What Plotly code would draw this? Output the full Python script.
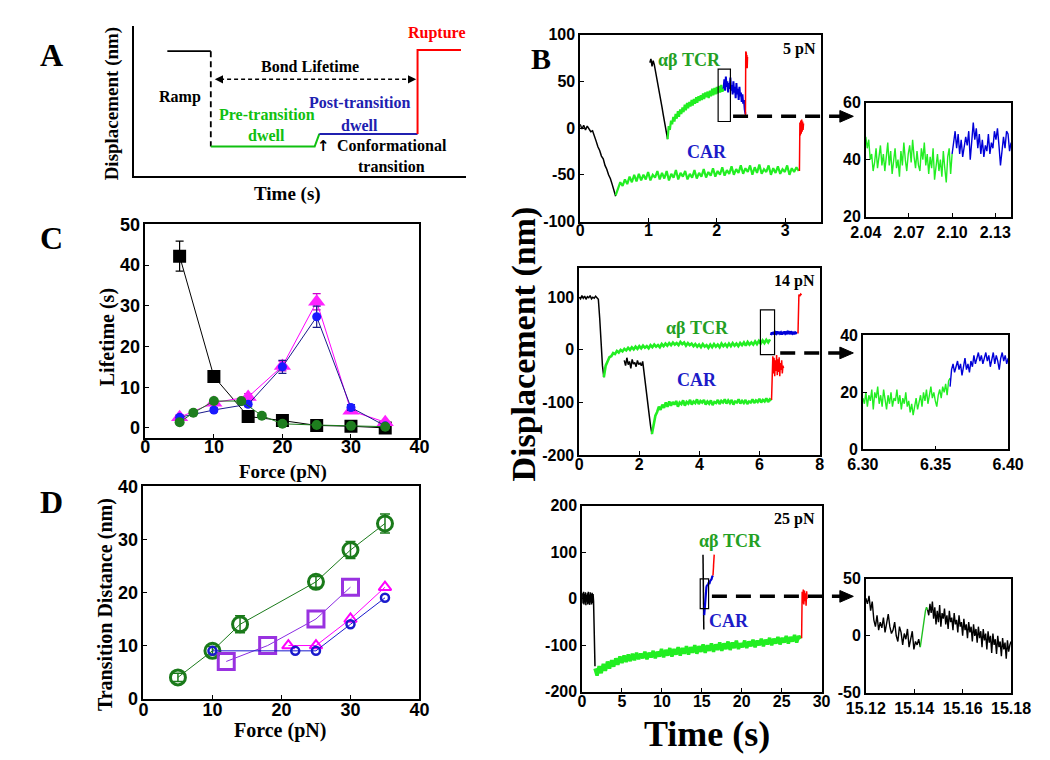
import numpy as np
import plotly.graph_objects as go

W, H = 1050, 760
SERIF = "Liberation Serif, Times New Roman, serif"
SANS = "Liberation Sans, Arial, sans-serif"

LIME = "#22ee22"
BLUE = "#0000d8"
RED = "#ff0000"
TXT_GREEN = "#23a023"
TXT_BLUE = "#1c1cc8"

# ---------------- Panel A (schematic, arbitrary units 0-100) ----------------
A_ramp_x = [10.1, 23.2]; A_ramp_y = [83.1, 83.1]
A_drop_x = [23.2, 23.2]; A_drop_y = [83.1, 19.5]
A_pre_x = [23.2, 54.5, 55.9]; A_pre_y = [19.5, 19.5, 27.9]
A_post_x = [55.9, 85.5]; A_post_y = [27.9, 27.9]
A_rup_x = [85.5, 85.5, 98.6]; A_rup_y = [27.9, 83.8, 83.8]
A_life_x = [26.0, 83.5]; A_life_y = [64.3, 64.3]

# ---------------- Panel C (lifetime vs force) ----------------
C_force7 = [5, 10, 15, 20, 25, 30, 35]
C_black = [42.2, 12.6, 2.8, 1.8, 0.6, 0.4, 0.0]
C_black_err = [3.7, 1.0, 0.4, 0.3, 0.2, 0.2, 0.2]
C_mag = [2.6, 6.2, 7.6, 15.2, 31.0, 4.2, 1.4]
C_mag_err = [0.6, 0.6, 0.8, 1.2, 2.0, 0.6, 0.4]
C_blue = [2.6, 4.4, 5.8, 15.0, 27.3, 5.0, 0.5]
C_blue_err = [0.5, 0.5, 0.6, 1.6, 2.6, 0.7, 0.3]
C_force_green = [5, 7, 10, 14, 17, 20, 25, 30, 35]
C_green = [1.4, 3.7, 6.6, 6.6, 3.0, 1.0, 0.7, 0.5, 0.3]

# ---------------- Panel D (transition distance vs force) ----------------
D_force_green = [5, 10, 14, 25, 30, 35]
D_green = [4, 9, 14, 22, 28, 33]
D_green_err = [0.8, 0.8, 1.6, 1.0, 1.6, 1.8]
D_force_purple = [12, 18, 25, 30]
D_purple = [7, 10, 15, 21]
D_force_mag = [21, 25, 30, 35]
D_mag = [10, 10, 15, 21]
D_force_blue = [10, 22, 25, 30, 35]
D_blue = [9, 9, 9, 14, 19]

# ---------------- Panel B traces: (t_start, t_end, values) ----------------
# 5 pN
B1_car_black = (0.0, 0.52, [4, -1, 3, -2, 2, -1, -4, -3, -10, -14, -20, -24, -30, -33, -40, -44, -50, -54, -60, -66, -73])
B1_car_green = (0.52, 3.2, [-72, -64, -58, -62, -55, -60, -52, -58, -50, -57, -49, -56, -50, -55, -47, -56, -50, -53, -46, -55,
                            -48, -54, -46, -56, -49, -53, -45, -55, -48, -52, -46, -55, -49, -53, -45, -54, -48, -52, -44, -53,
                            -47, -51, -43, -52, -46, -50, -42, -51, -45, -49, -41, -50, -44, -48, -40, -49, -43, -47, -40, -50,
                            -42, -48, -39, -49, -44, -47, -40, -50, -43, -48, -41, -49, -44, -47, -40, -50, -43, -47, -42, -46])
B1_car_red = (3.21, 3.27, [-46, 6, -8, 8, -6, 9, -4, 7, -2, 5])
B1_tcr_black = (1.02, 1.28, [70, 74, 66, 72, 68, 62, 55, 50, 42, 36, 30, 22, 15, 8, 0, -6, -12])
B1_tcr_green = (1.28, 2.10, [-12, 2, -2, 8, 4, 12, 7, 15, 10, 18, 12, 20, 15, 22, 17, 25, 19, 27, 21, 28,
                             23, 30, 24, 31, 26, 33, 27, 34, 29, 35, 30, 37, 31, 38, 33, 39, 32, 40, 34, 42,
                             35, 43, 36, 44, 37, 45, 38, 46, 39, 42])
B1_tcr_blue = (2.10, 2.42, [42, 52, 40, 55, 44, 50, 38, 48, 42, 54, 40, 46, 36, 50, 38, 44, 32, 48, 36, 42,
                            30, 44, 34, 38, 28, 36, 26, 30, 20, 15])
B1_tcr_red = (2.42, 2.45, [14, 82, 62, 80, 66, 78, 64, 76])
B1_box = (2.02, 2.20, 7, 63)
# 5 pN inset
I1_green = (2.04, 2.10, [48, 44, 47, 40, 42, 36, 39, 44, 37, 41, 45, 38, 42, 36, 40, 46, 38, 43, 35, 41,
                         44, 37, 40, 34, 43, 38, 46, 40, 36, 42, 45, 39, 47, 41, 37, 43, 38, 36, 44, 40,
                         46, 38, 42, 35, 41, 37, 44, 33, 39, 42, 36, 40, 34, 43, 37, 32, 41, 44, 35, 42])
I1_blue = (2.10, 2.141, [42, 46, 50, 44, 49, 42, 47, 41, 44, 48, 45, 50, 40, 46, 53, 47, 51, 44, 49, 42,
                         47, 41, 45, 43, 49, 42, 46, 44, 50, 47, 51, 45, 38, 43, 48, 44, 50, 49, 43, 46])

# 14 pN
B2_tcr_black = (0.0, 0.82, [100, 97, 103, 98, 102, 96, 101, 99, 103, 97, 100, 98, 102, 99, 96, 60, 10, -30, -52])
B2_tcr_green = (0.82, 6.35, [-52, -30, -22, -14, -12, -6, -8, -2, -5, 0, -3, 2, -1, 4, 0, 5, 1, 6, 2, 7,
                             3, 8, 4, 7, 3, 9, 5, 10, 6, 9, 5, 11, 7, 12, 8, 13, 9, 14, 10, 13,
                             9, 15, 11, 14, 8, 13, 9, 12, 7, 11, 6, 10, 5, 11, 6, 9, 4, 10, 5, 11,
                             6, 10, 5, 12, 7, 11, 6, 12, 7, 13, 8, 12, 7, 13, 9, 14, 8, 15, 10, 14,
                             10, 16, 11, 17, 12, 18, 13, 19, 14, 20])
B2_tcr_blue = (6.38, 7.25, [28, 33, 30, 34, 29, 33, 31, 35, 30, 34, 31, 33, 29, 34, 30, 35, 31, 33, 30, 34,
                            32, 35, 30, 33, 31, 34, 30, 33, 32, 31])
B2_tcr_red = (7.28, 7.4, [31, 105, 102, 106, 104])
B2_car_black = (1.5, 2.42, [-20, -30, -15, -28, -22, -35, -18, -27, -24, -32, -20, -28, -25, -30, -22,
                            -45, -65, -85, -105, -125, -145, -160])
B2_car_green = (2.42, 6.4, [-160, -140, -125, -118, -108, -114, -104, -110, -100, -108, -98, -106, -99, -104, -97, -108, -100, -103, -96, -106,
                            -99, -102, -95, -104, -98, -101, -94, -103, -97, -100, -95, -104, -98, -102, -96, -105, -99, -101, -95, -103,
                            -97, -100, -94, -102, -96, -101, -95, -104, -98, -100, -94, -102, -97, -101, -95, -103, -98, -100, -94, -101,
                            -96, -99, -93, -100, -95, -98, -92, -99, -94, -96])
B2_car_red = (6.4, 6.8, [-95, -60, -12, -45, -15, -50, -20, -40, -10, -48, -18, -42, -14, -50, -25, -38, -20, -45, -30, -35])
B2_box = (6.03, 6.50, -9, 76)
# 14 pN inset
I2_green = (6.30, 6.36, [18, 16, 20, 15, 19, 17, 21, 14, 20, 18, 22, 16, 19, 15, 21, 17, 14, 19, 16, 20,
                         15, 18, 17, 21, 16, 19, 14, 18, 16, 20, 15, 17, 13, 16, 12, 15, 18, 14, 17, 19,
                         15, 20, 17, 21, 16, 19, 22, 18, 20, 17, 15, 19, 21, 18, 22, 20, 23, 19, 24, 25])
I2_blue = (6.36, 6.40, [22, 28, 30, 27, 29, 31, 28, 30, 26, 29, 32, 28, 30, 27, 31, 29, 33, 30, 32, 34,
                        31, 33, 30, 32, 34, 31, 33, 29, 32, 34, 30, 33, 31, 28, 32, 34, 31, 33, 30, 32])

# 25 pN
B3_car_black = (0.0, 1.62, [0, 12, -10, 15, -12, 10, -8, 14, -14, 8, -6, 12, -12, 15, -10, 9, -13, 14, -8, 11,
                            -12, 13, -9, 10, -5, -95, -100, -145])
B3_car_green = (1.62, 27.4, [-150, -165, -145, -160, -140, -155, -135, -150, -132, -146, -128, -142, -124, -138, -122, -136, -120, -134, -118, -132,
                             -116, -130, -118, -128, -114, -130, -116, -126, -112, -128, -114, -124, -108, -126, -110, -122, -106, -124, -108, -120,
                             -104, -122, -106, -118, -102, -120, -104, -116, -100, -118, -102, -114, -98, -116, -100, -112, -96, -114, -98, -110,
                             -94, -112, -96, -108, -92, -110, -94, -106, -90, -108, -96, -104, -90, -106, -92, -102, -88, -104, -90, -100,
                             -86, -102, -88, -98, -84, -100, -86, -96, -82, -98, -84, -94, -80, -96, -82, -92, -78, -94, -80, -86])
B3_car_red = (27.5, 28.2, [-85, 15, -10, 20, -12, 18, -5, 12, -15, 16, 0])
B3_tcr_black = (15.15, 15.25, [95, 20, -66])
B3_tcr_blue = (15.3, 16.4, [-35, -10, 20, 25, 30, 28, 35, 32, 38, 40, 42, 48, 50])
B3_tcr_red = (16.4, 16.55, [50, 70, 85, 95])
B3_box = (14.8, 15.85, -21, 43)
# 25 pN inset
I3_black1 = (15.12, 15.1425, [33, 28, 35, 22, 30, 14, 8, 18, 5, 12, 7, 16, 3, 10, 19, 8, 2, 5, 12, 0,
                              -5, 8, 3, -8, 2, -3, 6, -10, -2, 4, -12, -5, -8, -3, -10])
I3_green = (15.1425, 15.1455, [-10, -3, 5, 12, 18, 22, 25, 23])
I3_black2 = (15.1455, 15.18, [23, 18, 28, 20, 30, 15, 25, 10, 22, 12, 27, 8, 20, 15, 24, 10, 18, 6, 22, 12,
                              16, 5, 20, 10, 14, 3, 18, 8, 12, 0, 15, 5, 10, -2, 12, 3, 8, -5, 10, 0,
                              6, -6, 8, -2, 4, -10, 6, -4, 2, -12, 4, -6, 0, -15, 2, -8, -3, -16, 0, -10,
                              -5, -18, -2, -12, -6, -20, -4, -14, -8, -5])


def px(x):
    return x / W


def py(y):
    return 1 - y / H


fig = go.Figure()


def seg(spec, color, xa, ya, width=1.2):
    t0, t1, vals = spec
    t = np.linspace(t0, t1, len(vals))
    fig.add_trace(go.Scatter(x=t, y=vals, mode="lines", line=dict(color=color, width=width),
                             xaxis=xa, yaxis=ya, hoverinfo="skip"))


def axis(dom_x, rng, tickvals=None, ticktext=None, size=16, standoff=0):
    d = dict(domain=dom_x, range=rng, showline=True, mirror=True, linecolor="black", linewidth=1.5,
             ticks="inside", ticklen=4, tickwidth=1.3, tickcolor="black", showgrid=False, zeroline=False,
             tickfont=dict(family=SANS, size=size, color="black", weight="bold"), fixedrange=True,
             ticklabelstandoff=standoff)
    if tickvals is not None:
        d["tickmode"] = "array"
        d["tickvals"] = tickvals
        d["ticktext"] = ticktext if ticktext is not None else [str(v) for v in tickvals]
    return d


XS = -6  # pull main x tick labels toward the axis
XI = 0   # inset x tick labels

layout_axes = {}
# A
layout_axes["xaxis"] = dict(domain=[px(110), px(455)], range=[0, 100], showline=True, mirror=False,
                            linecolor="black", linewidth=1.5, showticklabels=False, ticks="",
                            showgrid=False, zeroline=False, anchor="y")
layout_axes["yaxis"] = dict(domain=[py(162), py(8)], range=[0, 100], showline=True, mirror=False,
                            linecolor="black", linewidth=1.5, showticklabels=False, ticks="",
                            showgrid=False, zeroline=False, anchor="x")
# C
layout_axes["xaxis2"] = axis([px(122), px(407)], [0, 40], [0, 10, 20, 30, 40], size=18, standoff=-8) | dict(anchor="y2")
layout_axes["yaxis2"] = axis([py(431), py(212)], [-2.4, 50], [0, 10, 20, 30, 40, 50], size=18) | dict(anchor="x2")
# D
layout_axes["xaxis3"] = axis([px(120), px(407)], [0, 40], [0, 10, 20, 30, 40], size=18, standoff=XS) | dict(anchor="y3")
layout_axes["yaxis3"] = axis([py(699), py(481)], [0, 40], [0, 10, 20, 30, 40], size=18) | dict(anchor="x3")
# B1
layout_axes["xaxis4"] = axis([px(574), px(824)], [0, 3.52], [0, 1, 2, 3], standoff=XS) | dict(anchor="y4")
layout_axes["yaxis4"] = axis([py(209), py(17)], [-100, 100], [-100, -50, 0, 50, 100],
                             ["-100", "-50", "0", "50", "100"]) | dict(anchor="x4")
layout_axes["xaxis5"] = axis([px(871), px(1022)], [2.04, 2.141], [2.04, 2.07, 2.10, 2.13],
                             ["2.04", "2.07", "2.10", "2.13"], standoff=XI) | dict(anchor="y5")
layout_axes["yaxis5"] = axis([py(204), py(87)], [20, 60], [20, 40, 60]) | dict(anchor="x5")
# B2
layout_axes["xaxis6"] = axis([px(573), px(823)], [0, 8], [0, 2, 4, 6, 8], standoff=XS) | dict(anchor="y6")
layout_axes["yaxis6"] = axis([py(449), py(257)], [-200, 155], [-200, -100, 0, 100],
                             ["-200", "-100", "0", "100"]) | dict(anchor="x6")
layout_axes["xaxis7"] = axis([px(868), px(1019)], [6.30, 6.40], [6.30, 6.35, 6.40],
                             ["6.30", "6.35", "6.40"], standoff=XI) | dict(anchor="y7")
layout_axes["yaxis7"] = axis([py(443), py(326)], [0, 40], [0, 20, 40]) | dict(anchor="x7")
# B3
layout_axes["xaxis8"] = axis([px(576), px(825)], [0, 30], [0, 5, 10, 15, 20, 25, 30], standoff=XS) | dict(anchor="y8")
layout_axes["yaxis8"] = axis([py(692), py(501)], [-200, 200], [-200, -100, 0, 100, 200],
                             ["-200", "-100", "0", "100", "200"]) | dict(anchor="x8")
layout_axes["xaxis9"] = axis([px(871), px(1022)], [15.12, 15.18], [15.12, 15.14, 15.16, 15.18],
                             ["15.12", "15.14", "15.16", "15.18"], standoff=XI) | dict(anchor="y9")
layout_axes["yaxis9"] = axis([py(693), py(576)], [-50, 50], [-50, 0, 50], ["-50", "0", "50"]) | dict(anchor="x9")

# ---------- Panel A traces ----------
fig.add_trace(go.Scatter(x=A_ramp_x, y=A_ramp_y, mode="lines", line=dict(color="black", width=1.8), xaxis="x", yaxis="y"))
fig.add_trace(go.Scatter(x=A_drop_x, y=A_drop_y, mode="lines", line=dict(color="black", width=1.8, dash="6px,4px"), xaxis="x", yaxis="y"))
fig.add_trace(go.Scatter(x=A_pre_x, y=A_pre_y, mode="lines", line=dict(color="#10c010", width=2), xaxis="x", yaxis="y"))
fig.add_trace(go.Scatter(x=A_post_x, y=A_post_y, mode="lines", line=dict(color="#2020b0", width=2), xaxis="x", yaxis="y"))
fig.add_trace(go.Scatter(x=A_rup_x, y=A_rup_y, mode="lines", line=dict(color=RED, width=2), xaxis="x", yaxis="y"))
fig.add_trace(go.Scatter(x=A_life_x, y=A_life_y, mode="lines", line=dict(color="black", width=1.5, dash="4px,3px"), xaxis="x", yaxis="y"))

# ---------- Panel C traces ----------
fig.add_trace(go.Scatter(x=C_force7, y=C_black, mode="lines+markers", xaxis="x2", yaxis="y2",
                         line=dict(color="black", width=1),
                         marker=dict(symbol="square", size=13, color="black"),
                         error_y=dict(type="data", array=C_black_err, color="black", thickness=1.2, width=4)))
fig.add_trace(go.Scatter(x=C_force7, y=C_mag, mode="lines+markers", xaxis="x2", yaxis="y2",
                         line=dict(color="#ff00ff", width=1),
                         marker=dict(symbol="triangle-up", size=15, color="#ff22ff"),
                         error_y=dict(type="data", array=C_mag_err, color="#cc00cc", thickness=1.2, width=4)))
fig.add_trace(go.Scatter(x=C_force7, y=C_blue, mode="lines+markers", xaxis="x2", yaxis="y2",
                         line=dict(color="#1a1a8c", width=1),
                         marker=dict(symbol="circle", size=9, color="#1a1aff"),
                         error_y=dict(type="data", array=C_blue_err, color="#1a1a8c", thickness=1.2, width=4)))
fig.add_trace(go.Scatter(x=C_force_green, y=C_green, mode="lines+markers", xaxis="x2", yaxis="y2",
                         line=dict(color="#1a7a1a", width=1),
                         marker=dict(symbol="circle", size=10, color="#1e7e1e")))

# ---------- Panel D traces ----------
fig.add_trace(go.Scatter(x=D_force_green, y=D_green, mode="lines+markers", xaxis="x3", yaxis="y3",
                         line=dict(color="#1a7a1a", width=1),
                         marker=dict(symbol="circle-open", size=15, color="#1a7a1a", line=dict(width=3)),
                         error_y=dict(type="data", array=D_green_err, color="#1a7a1a", thickness=1.5, width=5)))
fig.add_trace(go.Scatter(x=D_force_purple, y=D_purple, mode="lines+markers", xaxis="x3", yaxis="y3",
                         line=dict(color="#8a2be2", width=1),
                         marker=dict(symbol="square-open", size=16, color="#9932e0", line=dict(width=3))))
fig.add_trace(go.Scatter(x=D_force_mag, y=D_mag, mode="lines+markers", xaxis="x3", yaxis="y3",
                         line=dict(color="#ff00ff", width=1),
                         marker=dict(symbol="triangle-up-open", size=11, color="#ff00ff", line=dict(width=2))))
fig.add_trace(go.Scatter(x=D_force_blue, y=D_blue, mode="lines+markers", xaxis="x3", yaxis="y3",
                         line=dict(color="#1a1acc", width=1),
                         marker=dict(symbol="circle-open", size=8, color="#1a1acc", line=dict(width=2.5))))

# ---------- Panel B traces ----------
seg(B1_car_black, "black", "x4", "y4", 1.5)
seg(B1_car_green, LIME, "x4", "y4", 2.2)
seg(B1_car_red, RED, "x4", "y4", 1.5)
seg(B1_tcr_black, "black", "x4", "y4", 1.5)
seg(B1_tcr_green, LIME, "x4", "y4", 2.2)
seg(B1_tcr_blue, BLUE, "x4", "y4", 2.0)
seg(B1_tcr_red, RED, "x4", "y4", 1.5)
seg(I1_green, LIME, "x5", "y5", 1.4)
seg(I1_blue, BLUE, "x5", "y5", 1.4)

seg(B2_tcr_black, "black", "x6", "y6", 1.5)
seg(B2_tcr_green, LIME, "x6", "y6", 2.6)
seg(B2_tcr_blue, BLUE, "x6", "y6", 2.4)
seg(B2_tcr_red, RED, "x6", "y6", 1.5)
seg(B2_car_black, "black", "x6", "y6", 1.5)
seg(B2_car_green, LIME, "x6", "y6", 2.6)
seg(B2_car_red, RED, "x6", "y6", 1.5)
seg(I2_green, LIME, "x7", "y7", 1.4)
seg(I2_blue, BLUE, "x7", "y7", 1.4)

seg(B3_car_black, "black", "x8", "y8", 1.5)
seg(B3_car_green, LIME, "x8", "y8", 3.5)
seg(B3_car_red, RED, "x8", "y8", 1.5)
seg(B3_tcr_black, "black", "x8", "y8", 1.5)
seg(B3_tcr_blue, BLUE, "x8", "y8", 2.2)
seg(B3_tcr_red, RED, "x8", "y8", 1.5)
seg(I3_black1, "black", "x9", "y9", 1.4)
seg(I3_green, "#20c020", "x9", "y9", 1.4)
seg(I3_black2, "black", "x9", "y9", 1.4)

shapes = []
for (x0, x1, y0, y1), xa, ya in [(B1_box, "x4", "y4"), (B2_box, "x6", "y6"), (B3_box, "x8", "y8")]:
    shapes.append(dict(type="rect", xref=xa, yref=ya, x0=x0, x1=x1, y0=y0, y1=y1,
                       line=dict(color="black", width=1.2)))

# dashed zoom arrows (pixel positions)
for x0, yy in [(733, 101), (782, 344), (711, 594)]:
    shapes.append(dict(type="line", xref="paper", yref="paper", x0=px(x0), x1=px(845), y0=py(yy), y1=py(yy),
                       line=dict(color="black", width=3.5, dash="15px,9px")))
    shapes.append(dict(type="path", xref="paper", yref="paper",
                       path=f"M {px(844)},{py(yy - 6)} L {px(858)},{py(yy)} L {px(844)},{py(yy + 6)} Z",
                       fillcolor="black", line=dict(color="black", width=1)))

annotations = []


def text(x, y, s, size, color="black", font=SERIF, angle=0, xanchor="center"):
    annotations.append(dict(x=px(x), y=py(y), xref="paper", yref="paper", text=s, showarrow=False,
                            font=dict(family=font, size=size, color=color, weight="bold"),
                            textangle=angle, xanchor=xanchor, yanchor="middle"))


# Panel letters
text(24, 38, "A", 32)
text(24, 226, "C", 32)
text(24, 497, "D", 32)
text(533, 42, "B", 30)

# Panel A labels
text(87, 88, "Displacement (nm)", 19, angle=-90)
text(270, 181, "Time (s)", 19)
text(293, 50, "Bond Lifetime", 16)
text(158, 81, "Ramp", 16)
text(248, 99, "Pre-transition", 16, color="#10c010")
text(248, 121, "dwell", 16, color="#10c010")
text(345, 87, "Post-transition", 16, color="#2020b0")
text(345, 110, "dwell", 16, color="#2020b0")
text(307, 131, "↑", 15, font="DejaVu Sans")
text(378, 131, "Conformational", 16)
text(378, 153, "transition", 16)
text(425, 15, "Rupture", 16, color=RED)
# arrowheads for bond lifetime
for xa, xb in [(A_life_x[0], A_life_x[0] - 1.6), (A_life_x[1], A_life_x[1] + 1.6)]:
    annotations.append(dict(x=xb, y=A_life_y[0], ax=xa, ay=A_life_y[0], xref="x", yref="y", axref="x", ayref="y",
                            showarrow=True, arrowhead=2, arrowsize=1.1, arrowwidth=1.5, arrowcolor="black", text=""))

# Panel C/D labels
text(82, 328, "Lifetime (s)", 20, angle=-90)
text(265, 466, "Force (pN)", 19)
text(80, 602, "Transition Distance (nm)", 20, angle=-90)
text(262, 732, "Force (pN)", 20)

# Panel B labels
text(516, 335, "Displacement (nm)", 34, angle=-90)
text(706, 735, "Time (s)", 36)
text(802, 32, "5 pN", 16)
text(797, 270, "14 pN", 16)
text(797, 515, "25 pN", 16)
text(688, 43, "αβ TCR", 18, color=TXT_GREEN)
text(706, 138, "CAR", 18, color=TXT_BLUE)
text(696, 318, "αβ TCR", 18, color=TXT_GREEN)
text(696, 372, "CAR", 18, color=TXT_BLUE)
text(730, 537, "αβ TCR", 18, color=TXT_GREEN)
text(729, 619, "CAR", 18, color=TXT_BLUE)

fig.update_layout(width=W, height=H, margin=dict(l=0, r=0, t=0, b=0), showlegend=False,
                  plot_bgcolor="white", paper_bgcolor="white", shapes=shapes, annotations=annotations,
                  **layout_axes)

fig.write_html("out.html")
